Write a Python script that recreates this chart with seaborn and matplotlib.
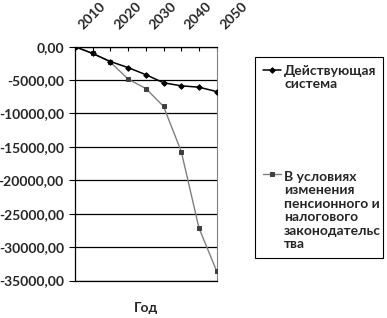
import numpy as np
import pandas as pd
import matplotlib
matplotlib.use("Agg")
import matplotlib.pyplot as plt
import seaborn as sns
from matplotlib.ticker import FuncFormatter, MultipleLocator
from matplotlib.legend_handler import HandlerLine2D
from matplotlib.transforms import ScaledTranslation

years = [2010, 2015, 2020, 2025, 2030, 2035, 2040, 2045, 2050]
current_system = [0, -1010, -2220, -3130, -4190, -5400, -5860, -6060, -6720]
reform_scenario = [0, -1010, -2320, -4850, -6260, -8940, -15700, -27150, -33600]
series_names = ["Действующая\nсистема",
                "В условиях\nизменения\nпенсионного и\nналогового\nзаконодательс\nтва"]
tick_years = [2010, 2020, 2030, 2040, 2050]
x_label = "Год"

sns.set_theme(style="white")
plt.rcParams['font.family'] = ['Lato', 'DejaVu Sans']
plt.rcParams['font.weight'] = 'bold'
FS = 10.0
LFS = 10.0

W, H = 387, 318
fig = plt.figure(figsize=(W / 100, H / 100), dpi=100)
ax = fig.add_axes([75 / W, 1 - 280.5 / H, (216.7 - 75) / W, (280.5 - 46.7) / H])

df1 = pd.DataFrame({"year": years, "value": current_system})
df2 = pd.DataFrame({"year": years, "value": reform_scenario})

sns.lineplot(data=df2, x="year", y="value", ax=ax, color="#808080", marker="s",
             markersize=2.8, markeredgecolor="#404040", markerfacecolor="#404040",
             linewidth=1.0, label=series_names[1], zorder=3)
sns.lineplot(data=df1, x="year", y="value", ax=ax, color="black", marker="D",
             markersize=2.8, markeredgecolor="black", markerfacecolor="black",
             linewidth=1.1, label=series_names[0], zorder=4)

ax.set_xlim(years[0], years[-1])
ax.set_ylim(-35000, 0)
ax.yaxis.set_major_locator(MultipleLocator(5000))
ax.yaxis.set_major_formatter(FuncFormatter(lambda v, p: f"{v:.2f}".replace(".", ",")))
ax.grid(axis="y", color="black", linewidth=0.9)
ax.grid(axis="x", visible=False)
ax.set_axisbelow(True)

ax.xaxis.tick_top()
ax.set_xticks(years)
ax.set_xticklabels([str(y) if y in tick_years else "" for y in years])
ax.tick_params(axis="x", which="major", direction="in", length=3, width=0.8,
               color="black", pad=11, labelsize=FS, top=True, bottom=False)
for lab in ax.get_xticklabels():
    lab.set_rotation(45)
    lab.set_rotation_mode("anchor")
    lab.set_ha("left")
    lab.set_va("bottom")
    lab.set_fontweight("bold")
    lab.set_transform(lab.get_transform() + ScaledTranslation(10 / 100, 0, fig.dpi_scale_trans))
ax.tick_params(axis="y", direction="out", length=4, width=0.8, color="black",
               pad=4, labelsize=FS, left=True)
for lab in ax.get_yticklabels():
    lab.set_fontweight("bold")

ax.set_xlabel("")
ax.set_ylabel("")
ax.text(0.5, -0.1175, x_label, transform=ax.transAxes, ha="center", va="center",
        fontsize=FS, fontweight="bold")

for side in ["top", "left", "bottom"]:
    ax.spines[side].set_color("black")
    ax.spines[side].set_linewidth(0.9)
ax.spines["right"].set_color("#808080")
ax.spines["right"].set_linewidth(0.8)


class TopLine(HandlerLine2D):
    def __init__(self, shift, **kw):
        super().__init__(**kw)
        self.shift = shift

    def create_artists(self, legend, orig_handle, xdescent, ydescent, width,
                       height, fontsize, trans):
        arts = super().create_artists(legend, orig_handle, xdescent, ydescent,
                                      width, height, fontsize, trans)
        for a in arts:
            xd, yd = a.get_data()
            a.set_data(xd, np.asarray(yd) + self.shift)
        return arts


handles, labels = ax.get_legend_handles_labels()
order = [1, 0]
handles = [handles[i] for i in order]
labels = [labels[i] for i in order]
LSP = 1.15
line_pitch = 0.91 * LSP * LFS
hmap = {h: TopLine((lab.count("\n")) / 2 * line_pitch) for h, lab in zip(handles, labels)}
leg = ax.legend(handles, labels, handler_map=hmap,
                bbox_to_anchor=(255 / W, 1 - 263 / H, 128 / W, 206 / H),
                bbox_transform=fig.transFigure, loc="upper left", mode="expand",
                borderaxespad=0, fancybox=False, framealpha=1, edgecolor="black",
                prop={"size": LFS, "weight": "bold"}, handlelength=1.3,
                handletextpad=0.25, borderpad=0.55, labelspacing=5.8)
for t in leg.get_texts():
    t.set_linespacing(LSP)
leg.get_frame().set_linewidth(0.8)

fig.savefig("out.png", dpi=100)
